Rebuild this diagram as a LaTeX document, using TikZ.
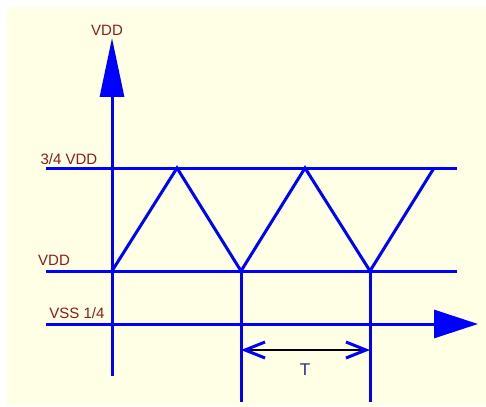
\documentclass[tikz,border=0pt]{standalone}
\usepackage{fontspec}
\setmainfont{Liberation Sans}
\usetikzlibrary{positioning,arrows.meta}
\definecolor{paper}{HTML}{FFFFE6}
\definecolor{lblred}{HTML}{8E1A1A}
\definecolor{wireblue}{HTML}{0000FF}
\definecolor{lblnavy}{HTML}{2A2A8C}

\begin{document}
\begin{tikzpicture}[
          x=1pt,y=-1pt,
          wire/.style={draw=wireblue,line width=3pt},
          lbl/.style={text=lblred,font=\fontsize{15}{17}\selectfont,inner sep=0pt},
          axisarrow/.style={wire,-{Triangle[length=#1,width=24pt]}}
        ]
        \useasboundingbox (0,0) rectangle (486,406);
        \fill[paper] (7,7) rectangle (486,406);
        % axes
        \coordinate (yb) at (112,376);
        \coordinate (yt) at (112,38);
        \coordinate (xl) at (46,324);
        \coordinate (xr) at (478,324);
        \draw[axisarrow=59pt] (yb) -- (yt);
        \draw[wire,-{Triangle[length=44pt,width=28pt]}] (xl) -- (xr);
        % levels
        \coordinate (hl) at (46,168);
        \coordinate (hr) at (457,168);
        \coordinate (ml) at (46,271);
        \coordinate (mr) at (457,271);
        \draw[wire] (hl) -- (hr);
        \draw[wire] (ml) -- (mr);
        % triangle wave
        \coordinate (w0) at (112,271);
        \coordinate (w1) at (177,168);
        \coordinate (w2) at (241,271);
        \coordinate (w3) at (305,168);
        \coordinate (w4) at (370,271);
        \coordinate (w5) at (434,168);
        \draw[wire,line join=miter] (w0) -- (w1) -- (w2) -- (w3) -- (w4) -- (w5);
        % period marks
        \coordinate (p1) at (241,402);
        \coordinate (p2) at (370,402);
        \draw[wire] (w2) -- (p1);
        \draw[wire] (w4) -- (p2);
        \coordinate (ta) at (241,350);
        \coordinate (tb) at (370,350);
        \draw[line width=2pt,{Straight Barb[color=wireblue,line width=3pt,length=20pt,width=16pt]}-{Straight Barb[color=wireblue,line width=3pt,length=20pt,width=16pt]}] (ta) -- (tb);
        % labels
        \node[lbl] (vddtop) at (107,30) {VDD};
        \node[lbl] (vhigh) at (69,159) {3/4 VDD};
        \node[lbl] (vmid) at (54,260) {VDD};
        \node[lbl] (vlow) at (77,313) {VSS 1/4};
        \node[lbl,text=lblnavy,font=\fontsize{17}{19}\selectfont] (per) at (305,370) {T};
      \end{tikzpicture}
\end{document}
